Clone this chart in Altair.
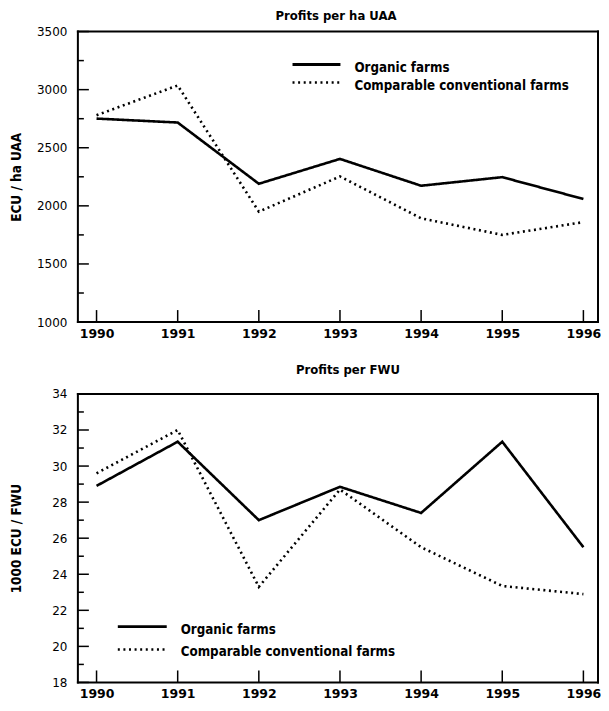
import altair as alt
import pandas as pd

years = [1990, 1991, 1992, 1993, 1994, 1995, 1996]
series = ["Organic farms", "Comparable conventional farms"]

ha_organic = [2751, 2717, 2190, 2404, 2173, 2247, 2059]
ha_conventional = [2780, 3036, 1950, 2253, 1893, 1750, 1860]

fwu_organic = [28.9, 31.35, 27.0, 28.85, 27.4, 31.35, 25.5]
fwu_conventional = [29.6, 32.0, 23.3, 28.7, 25.5, 23.35, 22.9]

ha_major = [1000, 1500, 2000, 2500, 3000, 3500]
ha_minor = [1250, 1750, 2250, 2750, 3250]
fwu_major = [18, 20, 22, 24, 26, 28, 30, 32, 34]
fwu_minor = [19, 21, 23, 25, 27, 29, 31, 33]

titles = ["Profits per ha UAA", "Profits per FWU"]
ytitles = ["ECU / ha UAA", "1000 ECU / FWU"]

W = 521
COND = "'Liberation Sans Narrow', 'DejaVu Sans Condensed', 'Roboto Condensed', 'Arial Narrow', sans-serif"
XS = alt.Scale(domain=[1989.77, 1996.18], nice=False, zero=False)


def long_df(org, conv):
    rows = []
    for y, a, b in zip(years, org, conv):
        rows.append({"year": y, "value": a, "series": series[0]})
        rows.append({"year": y, "value": b, "series": series[1]})
    return pd.DataFrame(rows)


def hrule(x0, x1, y, width=2, dash=None):
    kw = dict(color="black", strokeWidth=width, strokeCap="butt")
    if dash is not None:
        kw["strokeDash"] = dash
    return alt.Chart(pd.DataFrame({"k": [0]})).mark_rule(**kw).encode(
        x=alt.value(x0), x2=alt.value(x1), y=alt.value(y))


def bar(x0, x1, y0, y1):
    return alt.Chart(pd.DataFrame({"k": [0]})).mark_rect(color="black", opacity=1).encode(
        x=alt.value(x0), x2=alt.value(x1), y=alt.value(y0), y2=alt.value(y1))


def panel(org, conv, ydomain, major, minor, ytitle, title, leg, title_y, title_dx, H):
    df = long_df(org, conv)
    ys = alt.Scale(domain=ydomain, nice=False, zero=False)
    xaxis = alt.Axis(
        values=years, format="d", ticks=False, domain=False,
        grid=False, title=None,
        labelFont="DejaVu Sans", labelFontWeight="bold", labelFontSize=12.5,
        labelColor="black", labelPadding=5, labelOverlap=False)
    yaxis = alt.Axis(
        values=major, format="d", ticks=False, domain=False,
        grid=False, title=ytitle,
        labelFont="DejaVu Sans", labelFontSize=12, labelColor="black",
        labelPadding=11, minExtent=42, maxExtent=42, labelOverlap=False,
        labelSeparation=0,
        titleFont=COND, titleFontWeight="bold", titleFontSize=13.5,
        titleColor="black", titlePadding=12)
    lines = alt.Chart(df).mark_line(color="black", strokeCap="butt", strokeJoin="miter").encode(
        x=alt.X("year:Q", scale=XS, axis=xaxis),
        y=alt.Y("value:Q", scale=ys, axis=yaxis),
        strokeDash=alt.StrokeDash("series:N", scale=alt.Scale(domain=series, range=[[1, 0], [2, 3.6]]), legend=None),
        strokeWidth=alt.StrokeWidth("series:N", scale=alt.Scale(domain=series, range=[2.6, 2.6]), legend=None),
        detail="series:N",
    )
    frame = [
        bar(-1, W + 1, -1, 1),
        bar(-1, W + 1, H - 1, H + 1),
        bar(-1, 1, -1, H + 1),
        bar(W - 1, W + 1, -1, H + 1),
    ]
    maj = alt.Chart(pd.DataFrame({"value": major})).mark_rule(color="black", strokeWidth=1.5).encode(
        y=alt.Y("value:Q", scale=ys, axis=yaxis), x=alt.value(0), x2=alt.value(11))
    mnr = alt.Chart(pd.DataFrame({"value": minor})).mark_rule(color="black", strokeWidth=1.5).encode(
        y=alt.Y("value:Q", scale=ys, axis=yaxis), x=alt.value(0), x2=alt.value(6))
    xt = alt.Chart(pd.DataFrame({"year": years})).mark_rule(color="black", strokeWidth=1.5).encode(
        x=alt.X("year:Q", scale=XS, axis=xaxis), y=alt.value(H), y2=alt.value(H - 12))

    lx0, lx1, ly0, ly1, tx, tdy = leg
    l1 = hrule(lx0, lx1, ly0, width=2.8)
    l2 = hrule(lx0, lx1, ly1, width=2.6, dash=[2, 3.6])
    t1 = alt.Chart(pd.DataFrame({"s": [series[0]]})).mark_text(
        align="left", baseline="middle", font=COND, fontWeight="bold", fontSize=13.3, color="black").encode(
        text="s:N", x=alt.value(tx), y=alt.value(ly0 + tdy))
    t2 = alt.Chart(pd.DataFrame({"s": [series[1]]})).mark_text(
        align="left", baseline="middle", font=COND, fontWeight="bold", fontSize=13.3, color="black").encode(
        text="s:N", x=alt.value(tx), y=alt.value(ly1 + tdy))
    tt = alt.Chart(pd.DataFrame({"s": [title]})).mark_text(
        align="center", baseline="middle", font=COND, fontWeight="bold", fontSize=13, color="black").encode(
        text="s:N", x=alt.value(W / 2 + title_dx), y=alt.value(title_y))

    return alt.layer(lines, maj, mnr, xt, l1, l2, t1, t2, tt, *frame).properties(width=W, height=H)


top = panel(ha_organic, ha_conventional, [1000, 3500], ha_major, ha_minor,
            ytitles[0], titles[0], (215, 263, 33, 51, 277, 4), -16, -2, 291)
bottom = panel(fwu_organic, fwu_conventional, [18, 34], fwu_major, fwu_minor,
               ytitles[1], titles[1], (40, 89, 233, 256, 103, 3), -24, 10, 289)

chart = alt.vconcat(top, bottom, spacing=24).properties(
    padding={"left": 2, "top": 1, "right": 0, "bottom": 0},
    background="white",
).configure_view(strokeWidth=0).configure_axis(labelOverlap=False)

chart.save("out.html", embed_options={"renderer": "svg", "actions": False})
